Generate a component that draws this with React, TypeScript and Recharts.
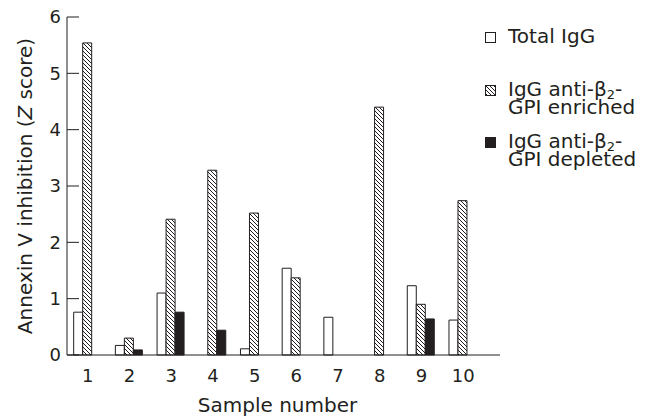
import React from 'react';
import { BarChart, Bar, XAxis, YAxis } from 'recharts';

// values (Z scores), null = no bar
const samples = ['1', '2', '3', '4', '5', '6', '7', '8', '9', '10'];
const totalIgG = [0.76, 0.17, 1.1, null, 0.11, 1.54, 0.67, null, 1.23, 0.62];
const enrichedIgG = [5.54, 0.3, 2.41, 3.28, 2.52, 1.37, null, 4.4, 0.9, 2.74];
const depletedIgG = [null, 0.09, 0.76, 0.44, null, null, null, null, 0.64, null];
const yTicks = [0, 1, 2, 3, 4, 5, 6];

const INK = '#231f20';
const FONT = '"DejaVu Sans", sans-serif';

const data = samples.map((s, i) => ({
  sample: s,
  total: totalIgG[i],
  enriched: enrichedIgG[i],
  depleted: depletedIgG[i],
}));

const YTick = (props: any) => {
  const { x, y, payload } = props;
  return (
    <g>
      <line x1={x} x2={x + 12} y1={y} y2={y} stroke={INK} strokeWidth={1} />
      <text x={x - 6} y={y} dy="0.36em" textAnchor="end" fill={INK} fontSize={18} fontFamily={FONT}>
        {payload.value}
      </text>
    </g>
  );
};

const YTitle = (props: any) => {
  const vb = props.viewBox;
  const cx = vb.x + 5;
  const cy = vb.y + vb.height / 2;
  return (
    <text
      x={cx}
      y={cy}
      transform={`rotate(-90, ${cx}, ${cy})`}
      textAnchor="middle"
      fill={INK}
      fontSize={20}
      fontFamily={FONT}
    >
      Annexin V inhibition (<tspan fontStyle="italic">Z</tspan> score)
    </text>
  );
};

const XTitle = (props: any) => {
  const vb = props.viewBox;
  return (
    <text
      x={vb.x + (vb.width - 16) / 2 + 2}
      y={vb.y + 57}
      textAnchor="middle"
      fill={INK}
      fontSize={20}
      fontFamily={FONT}
    >
      Sample number
    </text>
  );
};

const Beta2 = () => (
  <span>
    β<sub style={{ fontSize: 13, verticalAlign: -3, lineHeight: 0 }}>2</sub>-
  </span>
);

const legendItems = [
  { fill: '#fff', lines: [<span key="a">Total IgG</span>] },
  { fill: 'url(#hatch)', lines: [<span key="a">IgG anti-<Beta2 /></span>, <span key="b">GPI enriched</span>] },
  { fill: INK, lines: [<span key="a">IgG anti-<Beta2 /></span>, <span key="b">GPI depleted</span>] },
];
const legendGaps = [35, 16, 0];

const App: React.FC = () => {
  return (
    <div style={{ position: 'absolute', left: 0, top: 0, width: 653, height: 419, background: '#fff' }}>
      <svg width={0} height={0} style={{ position: 'absolute' }}>
        <defs>
          <pattern id="hatch" width={4} height={4} patternUnits="userSpaceOnUse">
            <rect width={4} height={4} fill="#fff" />
            <path d="M-1,3 l2,2 M0,0 l4,4 M3,-1 l2,2" stroke={INK} strokeWidth={1} />
          </pattern>
        </defs>
      </svg>
      <BarChart
        width={653}
        height={419}
        data={data}
        margin={{ top: 17, right: 153, bottom: 34, left: 27 }}
        barGap={0}
        barCategoryGap="16%"
      >
        <XAxis
          dataKey="sample"
          height={30}
          stroke={INK}
          tickLine={false}
          tickSize={0}
          tickMargin={14}
          padding={{ left: 0, right: 16 }}
          tick={{ fill: INK, fontSize: 18, fontFamily: FONT }}
          label={<XTitle />}
        />
        <YAxis
          width={40}
          domain={[0, 6]}
          ticks={yTicks}
          stroke={INK}
          tickLine={false}
          tickSize={0}
          tickMargin={0}
          tick={<YTick />}
          label={<YTitle />}
        />
        <Bar dataKey="total" fill="#fff" stroke={INK} strokeWidth={1} isAnimationActive={false} />
        <Bar dataKey="enriched" fill="url(#hatch)" stroke={INK} strokeWidth={1} isAnimationActive={false} />
        <Bar dataKey="depleted" fill={INK} stroke={INK} strokeWidth={1} isAnimationActive={false} />
      </BarChart>
      <div
        style={{
          position: 'absolute',
          left: 485,
          top: 27,
          fontFamily: FONT,
          fontSize: 20,
          lineHeight: '18px',
          color: INK,
        }}
      >
        {legendItems.map((it, i) => (
          <div key={i} style={{ display: 'flex', alignItems: 'flex-start', marginBottom: legendGaps[i] }}>
            <svg width={12} height={12} style={{ marginTop: 5, marginRight: 11, flex: 'none' }}>
              <rect x={0.5} y={0.5} width={10} height={10} fill={it.fill} stroke={INK} strokeWidth={1} />
            </svg>
            <div style={{ display: 'flex', flexDirection: 'column', whiteSpace: 'nowrap' }}>
              {it.lines}
            </div>
          </div>
        ))}
      </div>
    </div>
  );
};

export default App;
